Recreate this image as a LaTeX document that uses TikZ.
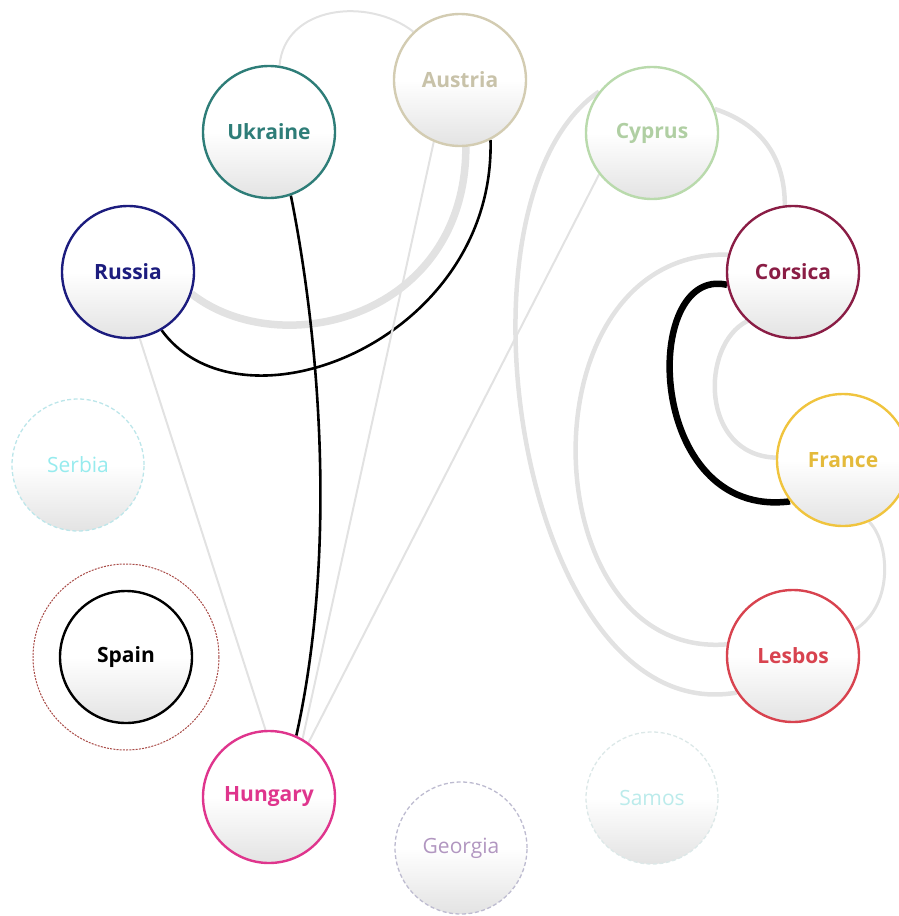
\documentclass[tikz,border=0pt]{standalone}
\usepackage{fontspec}
\setsansfont{Open Sans}
\usetikzlibrary{backgrounds}
\definecolor{ukrteal}{HTML}{2E7D78}
\definecolor{austan}{HTML}{D3CCB2}
\definecolor{cypgreen}{HTML}{B9DAAC}
\definecolor{rusnavy}{HTML}{1C1C7E}
\definecolor{cormaroon}{HTML}{8A1D45}
\definecolor{fragold}{HTML}{F0C43E}
\definecolor{lesred}{HTML}{D8434F}
\definecolor{hunpink}{HTML}{DF358D}
\definecolor{sercyan}{HTML}{BCE6EA}
\definecolor{geolav}{HTML}{BDBBD0}
\definecolor{samcyan}{HTML}{DCE8E8}
\definecolor{spainring}{HTML}{A84A46}
\definecolor{linkgray}{HTML}{E2E2E2}
\tikzset{
  country/.style={circle,minimum size=132pt,inner sep=0pt,line width=2.4pt,
    top color=white,bottom color=black!11,middle color=white,
    font=\sffamily\bfseries\fontsize{21}{24}\selectfont},
  faded/.style={country,dash pattern=on 4pt off 2.5pt,line width=1.3pt,
    font=\sffamily\fontsize{21}{24}\selectfont},
  thinlink/.style={draw=linkgray,line width=2pt},
  midlink/.style={draw=linkgray,line width=4.5pt},
  heavylink/.style={draw=linkgray,line width=7.5pt},
  blacklink/.style={draw=black,line width=2.6pt},
  boldblack/.style={draw=black,line width=6.5pt}
}
\begin{document}
\begin{tikzpicture}[x=1pt,y=-1pt]
\useasboundingbox (0,0) rectangle (898,916);
% countries
\node[country,draw=austan,text=austan!95!black] (aus) at (460,80) {Austria};
\node[country,draw=ukrteal,text=ukrteal] (ukr) at (269,132) {Ukraine};
\node[country,draw=cypgreen,text=cypgreen!95!black] (cyp) at (652,133) {Cyprus};
\node[country,draw=rusnavy,text=rusnavy] (rus) at (128,272) {Russia};
\node[country,draw=cormaroon,text=cormaroon] (cor) at (793,272) {Corsica};
\node[faded,draw=sercyan,text=sercyan!80!cyan] (ser) at (78,465) {Serbia};
\node[country,draw=fragold,text=fragold!95!black] (fra) at (843,460) {France};
\node[country,draw=black,text=black] (spa) at (126,657) {Spain};
\node[country,draw=lesred,text=lesred] (les) at (793,656) {Lesbos};
\node[country,draw=hunpink,text=hunpink] (hun) at (269,797) {Hungary};
\node[faded,draw=geolav,text=geolav!80!violet] (geo) at (461,848) {Georgia};
\node[faded,draw=samcyan,text=samcyan!85!cyan] (sam) at (652,798) {Samos};
\draw[spainring,line width=1pt,dash pattern=on 2pt off 1.2pt] (spa.center) circle[radius=93];
% links
\begin{scope}[on background layer]
\draw[thinlink] (ukr.81) .. controls +(5,-60) and +(-45,-35) .. (aus.134);
\draw[heavylink] (aus.-85) .. controls +(0,170) and +(90,70) .. (rus.-19);
\draw[blacklink] (aus.-63) .. controls +(5,200) and +(80,110) .. (rus.-60);
\draw[blacklink] (ukr.-71) .. controls +(30,150) and +(40,-180) .. (hun.66);
\draw[thinlink] (rus.-80) -- (hun.93);
\draw[thinlink] (aus.-113) -- (hun.60);
\draw[thinlink] (cyp.-142) -- (hun.54);
\draw[midlink] (cyp.142) .. controls (440,200) and (520,730) .. (les.-147);
\draw[midlink] (cor.165) .. controls (520,250) and (530,660) .. (les.170);
\draw[midlink] (cyp.21) .. controls +(45,15) and +(0,-50) .. (cor.97);
\draw[boldblack] (cor.-169) .. controls (640,265) and (645,520) .. (fra.-142);
\draw[midlink] (cor.-133) .. controls (700,345) and (700,455) .. (fra.178);
\draw[thinlink,line width=3pt] (fra.-67) .. controls +(20,20) and +(40,-25) .. (les.23);
\end{scope}
\end{tikzpicture}
\end{document}
